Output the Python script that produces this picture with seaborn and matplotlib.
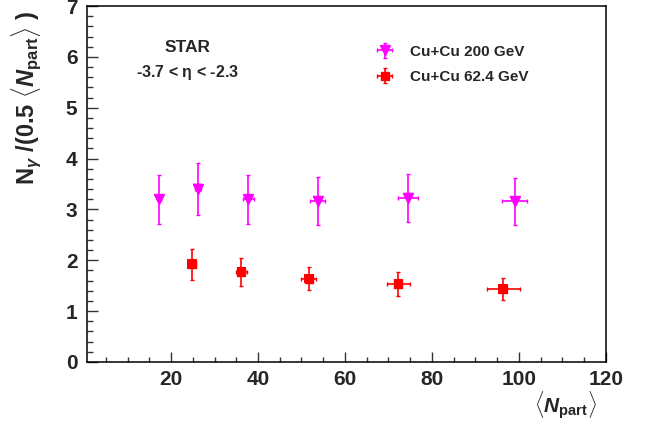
import matplotlib
matplotlib.use("Agg")
import matplotlib.pyplot as plt
import seaborn as sns
import pandas as pd
from matplotlib.ticker import MultipleLocator

# ---- data ----
npart_200 = [17.2, 26.1, 37.8, 53.7, 74.6, 99.0]
ratio_200 = [3.20, 3.41, 3.20, 3.17, 3.23, 3.16]
yerr_200 = [0.48, 0.51, 0.48, 0.47, 0.47, 0.46]
xerr_200 = [0.4, 0.7, 1.3, 1.8, 2.3, 2.8]

npart_62 = [24.8, 36.2, 51.7, 72.3, 96.4]
ratio_62 = [1.92, 1.77, 1.64, 1.53, 1.44]
yerr_62 = [0.30, 0.27, 0.23, 0.24, 0.22]
xerr_62 = [1.0, 1.3, 1.7, 2.6, 3.75]

label_200 = "Cu+Cu 200 GeV"
label_62 = "Cu+Cu 62.4 GeV"
x_ticks = [20, 40, 60, 80, 100, 120]
y_ticks = [0, 1, 2, 3, 4, 5, 6, 7]

sns.set_theme(style="ticks")
plt.rcParams['font.family'] = ['Liberation Sans', 'DejaVu Sans']
plt.rcParams['font.weight'] = 'bold'
plt.rcParams['mathtext.fontset'] = 'custom'
plt.rcParams['mathtext.rm'] = 'Liberation Sans:bold'
plt.rcParams['mathtext.it'] = 'Liberation Sans:bold:italic'
plt.rcParams['mathtext.bf'] = 'Liberation Sans:bold'
plt.rcParams['mathtext.sf'] = 'Liberation Sans:bold'

df = pd.concat([
    pd.DataFrame({"npart": npart_200, "ratio": ratio_200, "sys": label_200}),
    pd.DataFrame({"npart": npart_62, "ratio": ratio_62, "sys": label_62}),
])

fig = plt.figure(figsize=(6.6, 4.34), dpi=100)
ax = fig.add_axes([0.132, 0.166, 0.786, 0.820])

MAG = "#FF00FF"
RED = "#FF0000"

h200 = ax.errorbar(npart_200, ratio_200, yerr=yerr_200, xerr=xerr_200, fmt='v',
                   color=MAG, ms=7.5, elinewidth=1.2, capsize=1.5, capthick=1.0,
                   label=label_200)
h62 = ax.errorbar(npart_62, ratio_62, yerr=yerr_62, xerr=xerr_62, fmt='s',
                  color=RED, ms=5.5, elinewidth=1.2, capsize=1.5, capthick=1.0,
                  label=label_62)

sns.scatterplot(data=df, x="npart", y="ratio", hue="sys", style="sys",
                markers={label_200: 'v', label_62: 's'},
                palette={label_200: MAG, label_62: RED},
                s=50, edgecolor='none', legend=False, ax=ax, zorder=5)

ax.set_xlim(0.7, 120)
ax.set_ylim(0, 7)
ax.set_xticks(x_ticks)
ax.set_yticks(y_ticks)
ax.xaxis.set_minor_locator(MultipleLocator(5))
ax.yaxis.set_minor_locator(MultipleLocator(0.2))
ax.tick_params(axis='both', which='both', direction='in', top=False, right=False,
               labelsize=15, width=1.0, color='#333333')
ax.tick_params(axis='x', which='major', length=7, pad=6)
ax.tick_params(axis='x', which='minor', length=3.5)
ax.tick_params(axis='y', which='major', length=8, pad=7)
ax.tick_params(axis='y', which='minor', length=4.5)
for lab in ax.get_xticklabels() + ax.get_yticklabels():
    lab.set_fontweight('bold')
for s in ax.spines.values():
    s.set_linewidth(1.1)
    s.set_color('black')

ax.set_xlabel("")
ax.set_ylabel("")

fig.text(0.040, 0.775, r"$\mathrm{N}_{\gamma}$ /(0.5 $\langle N_{\mathrm{part}}\rangle$ )",
         rotation=90, ha='center', va='center', fontsize=17, fontweight='bold')
fig.text(0.905, 0.067, r"$\langle N_{\mathrm{part}}\rangle$",
         ha='right', va='center', fontsize=15, fontweight='bold')

ax.text(0.193, 0.885, "STAR", transform=ax.transAxes, ha='center', va='center',
        fontsize=12.5, fontweight='bold')
ax.text(0.193, 0.812, r"-3.7 < $\mathrm{\eta}$ < -2.3", transform=ax.transAxes,
        ha='center', va='center', fontsize=11.5, fontweight='bold')

leg = ax.legend(handles=[h200, h62], labels=[label_200, label_62],
                loc='upper left', bbox_to_anchor=(0.513, 0.93), frameon=False,
                prop={'weight': 'bold', 'size': 11}, handlelength=2.3,
                handletextpad=0.5, labelspacing=0.75)

fig.savefig("out.png", dpi=100)
